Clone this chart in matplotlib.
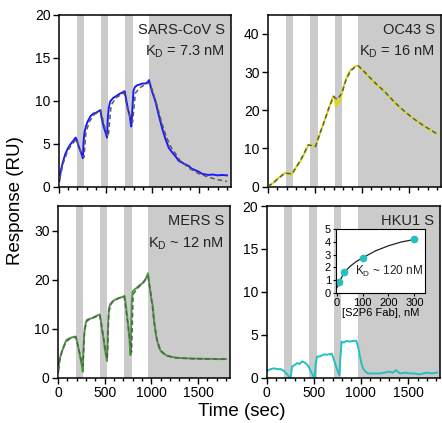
import numpy as np
import matplotlib
matplotlib.use("Agg")
import matplotlib.pyplot as plt
from matplotlib.ticker import MultipleLocator

plt.rcParams['font.family'] = ['Liberation Sans', 'DejaVu Sans']
plt.rcParams['mathtext.fontset'] = 'custom'
plt.rcParams['mathtext.rm'] = 'Liberation Sans'
plt.rcParams['mathtext.default'] = 'regular'

# shaded (dissociation) windows, seconds
bands = [(190, 270), (450, 530), (710, 790), (965, 1900)]

# SARS-CoV S
sars_t = [0, 10, 25, 45, 70, 100, 130, 160, 180, 190, 215, 240, 258, 265, 275, 290, 310, 340, 370, 400,
          430, 445, 460, 480, 500, 516, 525, 535, 550, 580, 610, 650, 690, 705, 720, 740, 760, 775, 782, 790,
          800, 815, 840, 870, 900, 930, 955, 965, 980, 1000, 1035, 1070, 1106, 1140, 1177, 1212, 1250, 1283,
          1318, 1350, 1389, 1420, 1460, 1495, 1530, 1570, 1601, 1650, 1700, 1750, 1800]
sars_y = [0.2, 1.0, 2.0, 2.9, 3.8, 4.5, 5.0, 5.4, 5.7, 5.5, 4.6, 3.9, 3.3, 5.2, 6.3, 7.0, 7.6, 8.2, 8.5, 8.6,
          8.8, 8.9, 7.9, 7.0, 6.3, 5.7, 8.0, 9.2, 9.9, 10.3, 10.5, 10.8, 11.0, 11.1, 10.2, 9.0, 8.2, 7.0, 8.0, 9.5,
          11.2, 11.6, 11.8, 11.9, 12.0, 12.0, 12.2, 12.4, 11.8, 11.0, 9.9, 8.3, 6.8, 5.6, 4.5, 4.0, 3.5, 3.0,
          2.8, 2.6, 2.4, 2.1, 1.9, 1.75, 1.5, 1.4, 1.35, 1.4, 1.3, 1.35, 1.3]
sars_fit_t = [0, 20, 50, 90, 130, 190, 220, 250, 270, 290, 330, 380, 450, 480, 510, 530, 560, 620, 700,
              730, 760, 790, 820, 880, 965, 1000, 1050, 1100, 1150, 1200, 1300, 1400, 1500, 1600, 1700, 1800]
sars_fit_y = [0, 1.4, 2.8, 4.0, 4.8, 5.5, 4.5, 3.7, 3.4, 6.3, 7.6, 8.4, 8.8, 7.4, 6.2, 5.8, 9.5, 10.4, 10.9,
              9.3, 8.2, 7.5, 10.9, 11.6, 12.1, 11.3, 9.5, 7.5, 5.8, 4.6, 3.0, 2.1, 1.5, 1.1, 0.8, 0.6]

# OC43 S
oc43_t = [0, 30, 60, 100, 140, 183, 200, 220, 240, 250, 259, 270, 300, 345, 390, 431, 450, 470, 490, 507,
          520, 550, 600, 650, 690, 700, 715, 725, 740, 759, 770, 790, 810, 845, 880, 920, 948, 965, 1000,
          1040, 1100, 1150, 1200, 1250, 1300, 1350, 1400, 1450, 1500, 1550, 1600, 1650, 1700, 1750, 1800]
oc43_y = [0, 0.5, 1.0, 2.0, 2.8, 3.6, 3.5, 3.4, 3.5, 3.0, 3.4, 4.0, 5.0, 6.6, 8.7, 10.9, 11.0, 10.8, 10.6, 10.5,
          11.5, 13.6, 17.0, 20.6, 23.3, 23.7, 23.0, 21.0, 22.5, 21.8, 22.5, 24.6, 26.5, 29.0, 30.5, 31.3, 31.7, 31.5,
          30.8, 29.9, 28.0, 26.8, 25.9, 24.8, 23.3, 22.1, 20.7, 19.8, 18.7, 17.8, 16.9, 16.1, 15.3, 14.6, 13.8]
oc43_fit_t = [0, 60, 120, 183, 220, 259, 300, 350, 431, 470, 507, 550, 600, 650, 700, 740, 790, 830,
              880, 930, 965, 1050, 1150, 1250, 1350, 1450, 1550, 1650, 1800]
oc43_fit_y = [0, 1.0, 2.3, 3.5, 3.4, 3.3, 5.0, 7.0, 10.9, 10.7, 10.5, 13.6, 17.0, 20.6, 23.6, 22.8, 24.6, 27.8,
              30.3, 31.3, 31.6, 29.5, 27.0, 24.7, 22.1, 19.8, 17.8, 16.1, 13.8]

# MERS S
mers_t = [0, 8, 21, 40, 57, 75, 92, 120, 145, 170, 191, 205, 220, 234, 250, 262, 266, 272, 280, 287, 300,
          312, 340, 376, 410, 447, 460, 470, 482, 500, 515, 525, 530, 538, 546, 560, 589, 620, 660, 695, 713,
          725, 735, 748, 765, 777, 782, 790, 801, 820, 837, 870, 908, 940, 965, 975, 990, 1000, 1014, 1030,
          1050, 1070, 1085, 1110, 1156, 1200, 1262, 1320, 1400, 1450, 1511, 1580, 1650, 1723, 1800]
mers_y = [0.5, 2.5, 3.9, 5.2, 6.0, 7.0, 7.7, 8.0, 8.2, 8.3, 8.4, 7.4, 6.0, 4.6, 3.0, 1.9, 1.2, 5.0, 8.5, 10.1,
          11.3, 11.8, 12.0, 12.2, 12.6, 12.9, 11.5, 10.0, 8.7, 6.2, 4.5, 3.4, 6.0, 11.5, 14.1, 15.0, 15.6, 16.0,
          16.3, 16.5, 16.7, 15.2, 13.5, 11.4, 8.0, 4.6, 9.0, 15.5, 17.6, 18.0, 18.2, 18.8, 19.3, 20.2, 21.3, 19.5,
          17.5, 16.0, 14.8, 11.5, 8.7, 7.0, 6.0, 5.2, 4.6, 4.3, 4.1, 4.0, 3.95, 3.9, 3.9, 3.85, 3.85, 3.8, 3.8]
mers_fit_t = [0, 20, 50, 90, 140, 190, 220, 250, 268, 285, 310, 380, 450, 480, 510, 528, 545, 580, 650,
              710, 740, 770, 788, 805, 850, 910, 965, 1000, 1030, 1060, 1100, 1160, 1250, 1400, 1600, 1800]
mers_fit_y = [0, 3.6, 5.9, 7.4, 8.1, 8.3, 6.2, 3.6, 2.4, 9.5, 11.6, 12.3, 12.7, 9.2, 5.6, 3.8, 13.5, 15.4,
              16.2, 16.5, 12.2, 7.8, 5.2, 17.0, 18.2, 19.3, 20.6, 16.3, 11.3, 7.6, 5.6, 4.5, 4.1, 3.9, 3.8, 3.8]

# HKU1 S
hku1_t = [0, 20, 45, 80, 115, 150, 185, 200, 220, 237, 255, 262, 270, 300, 324, 350, 377, 400, 429, 450,
          471, 490, 509, 520, 534, 570, 603, 650, 691, 708, 725, 743, 760, 771, 780, 795, 820, 848, 880, 920,
          952, 970, 987, 1005, 1022, 1050, 1074, 1120, 1161, 1200, 1250, 1300, 1340, 1371, 1400, 1423, 1470,
          1520, 1570, 1615, 1660, 1700, 1750, 1807]
hku1_y = [0.7, 0.9, 1.0, 1.1, 1.0, 1.0, 0.8, 0.6, 0.4, 0.1, 0.0, 0.6, 1.3, 1.5, 1.7, 1.6, 1.9, 1.8, 1.55, 1.2,
          0.7, 0.3, 0.0, 1.5, 2.45, 2.5, 2.7, 2.7, 2.8, 2.3, 1.7, 1.1, 0.6, 0.3, 2.0, 4.2, 4.1, 4.3, 4.2, 4.3,
          4.3, 3.6, 2.6, 1.7, 1.1, 0.7, 0.5, 0.5, 0.5, 0.5, 0.6, 0.7, 0.6, 0.9, 0.6, 0.5, 0.6, 0.5, 0.5, 0.4,
          0.5, 0.6, 0.5, 0.6]

# HKU1 steady-state inset
fab_conc = [10, 30, 100, 300]
fab_resp = [0.85, 1.6, 2.75, 4.2]
fab_fit_x = [3, 10, 20, 30, 50, 75, 100, 150, 200, 250, 300]
fab_fit_y = [0.45, 0.85, 1.25, 1.6, 2.05, 2.45, 2.75, 3.3, 3.7, 4.0, 4.2]

panels = [
    dict(pos=[0.133, 0.559, 0.389, 0.406], t=sars_t, y=sars_y, ft=sars_fit_t, fy=sars_fit_y,
         color='#1a1aff', ymax=20, ystep=5, name='SARS-CoV S', kd='K$_D$ = 7.3 nM', xlab=False),
    dict(pos=[0.606, 0.559, 0.391, 0.406], t=oc43_t, y=oc43_y, ft=oc43_fit_t, fy=oc43_fit_y,
         color='#dcd800', ymax=45, ystep=10, name='OC43 S', kd='K$_D$ = 16 nM', xlab=False),
    dict(pos=[0.131, 0.107, 0.389, 0.406], t=mers_t, y=mers_y, ft=mers_fit_t, fy=mers_fit_y,
         color='#4a9e3c', ymax=35, ystep=10, name='MERS S', kd='K$_D$ ~ 12 nM', xlab=True),
    dict(pos=[0.603, 0.107, 0.393, 0.406], t=hku1_t, y=hku1_y, ft=None, fy=None,
         color='#22c0c0', ymax=20, ystep=5, name='HKU1 S', kd=None, xlab=True),
]

fig = plt.figure(figsize=(4.42, 4.23), dpi=100)

for p in panels:
    ax = fig.add_axes(p['pos'])
    for a, b in bands:
        ax.axvspan(a, b, color='#cbcbcb', lw=0, zorder=0)
    ax.plot(p['t'], p['y'], color=p['color'], lw=1.4, zorder=2)
    if p['ft'] is not None:
        ax.plot(p['ft'], p['fy'], color='#5a5a5a', lw=1.1, ls=(0, (3, 2)), zorder=3)
    ax.set_xlim(0, 1840)
    ax.set_ylim(0, p['ymax'])
    ax.xaxis.set_major_locator(MultipleLocator(500))
    ax.xaxis.set_minor_locator(MultipleLocator(100))
    ax.yaxis.set_major_locator(MultipleLocator(p['ystep']))
    ax.tick_params(which='major', length=4.5, width=1, labelsize=10, pad=1.5)
    ax.tick_params(which='minor', length=2.5, width=1)
    if not p['xlab']:
        ax.tick_params(axis='x', labelbottom=False)
    for s in ax.spines.values():
        s.set_linewidth(1.1)
    ax.text(0.965, 0.955, p['name'], transform=ax.transAxes, ha='right', va='top', fontsize=10.5, color='#222222')
    if p['kd']:
        ax.text(0.965, 0.83, p['kd'], transform=ax.transAxes, ha='right', va='top', fontsize=10.5, color='#222222')

# inset with steady-state fit
ins = fig.add_axes([0.760, 0.308, 0.201, 0.150])
ins.plot(fab_fit_x, fab_fit_y, color='#222222', lw=0.9)
ins.plot(fab_conc, fab_resp, 'o', color='#22c0c0', ms=4.5)
ins.set_xlim(-3, 340)
ins.set_ylim(0, 5)
ins.xaxis.set_major_locator(MultipleLocator(100))
ins.yaxis.set_major_locator(MultipleLocator(1))
ins.tick_params(length=2.5, width=0.8, labelsize=8, pad=1)
for s in ins.spines.values():
    s.set_linewidth(0.8)
ins.set_xlabel('[S2P6 Fab], nM', fontsize=8, labelpad=0)
ins.text(0.98, 0.22, 'K$_D$ ~ 120 nM', transform=ins.transAxes, ha='right', va='bottom', fontsize=8.5,
         color='#222222')

fig.text(0.034, 0.527, 'Response (RU)', rotation=90, ha='center', va='center', fontsize=13.5)
fig.text(0.548, 0.028, 'Time (sec)', ha='center', va='center', fontsize=13.5)

plt.savefig('out.png', dpi=100)
